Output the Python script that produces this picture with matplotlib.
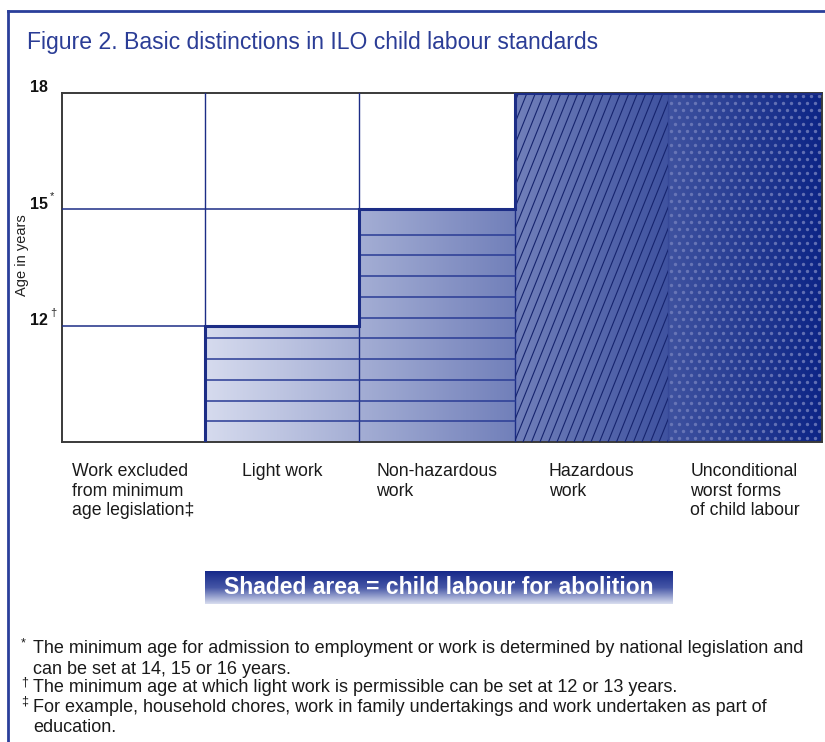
import numpy as np
import matplotlib
matplotlib.use("Agg")
import matplotlib.pyplot as plt
from matplotlib.colors import LinearSegmentedColormap
from matplotlib.patches import Polygon, Rectangle
from matplotlib.lines import Line2D
from matplotlib import transforms

plt.rcParams["font.family"] = ["Liberation Sans", "DejaVu Sans"]

# --- data ---------------------------------------------------------------
categories = [
    "Work excluded\nfrom minimum\nage legislation\u2021",
    "Light work",
    "Non-hazardous\nwork",
    "Hazardous\nwork",
    "Unconditional\nworst forms\nof child labour",
]
base_age = 9
max_age = 18
# age below which work counts as child labour for abolition (base = none)
shaded_top = [9, 12, 15, 18, 18]
age_ticks = [12, 15, 18]
age_tick_marks = ["\u2020", "*", ""]
title = "Figure 2. Basic distinctions in ILO child labour standards"
banner = "Shaded area = child labour for abolition"
footnotes = [
    ("*", "The minimum age for admission to employment or work is determined by national legislation and\ncan be set at 14, 15 or 16 years."),
    ("\u2020", "The minimum age at which light work is permissible can be set at 12 or 13 years."),
    ("\u2021", "For example, household chores, work in family undertakings and work undertaken as part of\neducation."),
]

# --- layout ---------------------------------------------------------------
col_widths = [143, 154, 156, 153, 154]  # pixel widths of the columns
NAVY = "#1c2d86"
TITLE_BLUE = "#2b3d96"
W, H = 825, 742


def px(x, y):
    return x / W, 1 - y / H


edges = np.concatenate([[0], np.cumsum(col_widths)])

fig = plt.figure(figsize=(W / 100, H / 100), dpi=100)

# outer blue frame (cropped on the right and bottom)
fig.add_artist(Line2D([8 / W, 1.0], [1 - 11 / H] * 2, color="#2a3f9a", lw=2))
fig.add_artist(Line2D([8 / W] * 2, [0, 1 - 11 / H], color="#2a3f9a", lw=2))

fig.text(*px(27, 42), title, color=TITLE_BLUE, fontsize=16.6, va="center", ha="left")

ax = fig.add_axes([62 / W, 1 - 442 / H, edges[-1] / W, 349 / H])
n = len(categories)
ax.set_xlim(0, edges[-1])
ax.set_ylim(base_age, max_age)
ax.set_xticks([])
ax.set_yticks([])
for side in ["left", "bottom", "top", "right"]:
    ax.spines[side].set_color("#3a3a3a")
    ax.spines[side].set_linewidth(1.4)

# shaded step region
first = next(i for i, t in enumerate(shaded_top) if t > base_age)
verts = [(edges[first], base_age)]
for i in range(first, n):
    verts.append((edges[i], shaded_top[i]))
    verts.append((edges[i + 1], shaded_top[i]))
verts.append((edges[n], base_age))
region = Polygon(verts, closed=True, facecolor="none", edgecolor="none")
ax.add_patch(region)

grad_cmap = LinearSegmentedColormap.from_list("g", ["#d6dbee", "#0d2586"])
grad = np.linspace(0, 1, 256).reshape(1, -1)
im = ax.imshow(grad, extent=[edges[first], edges[n], base_age, max_age], aspect="auto",
               cmap=grad_cmap, origin="lower", zorder=1)
im.set_clip_path(region)

# white-area grid lines
for age in age_ticks[:-1]:
    c_end = next(i for i, t in enumerate(shaded_top) if t >= age)
    ax.plot([0, edges[c_end]], [age, age], color=NAVY, lw=1.1, zorder=3)
for i in range(1, n):
    ax.plot([edges[i]] * 2, [base_age, max_age], color=NAVY, lw=1.0, zorder=3,
            alpha=0.25 if i == n - 1 else 1)

# horizontal stripes: light work and non-hazardous work
stripe_cols = [1, 2]
for y in base_age + 0.535 * np.arange(1, 11):
    cols = [c for c in stripe_cols if shaded_top[c] > y]
    if cols:
        ax.plot([edges[min(cols)], edges[max(cols) + 1]], [y, y], color="#2a3c95",
                lw=1.1, zorder=3)

# diagonal lines: hazardous work
hz = 3
clip = Rectangle((edges[hz], base_age), col_widths[hz], max_age - base_age,
                 transform=ax.transData, facecolor="none", edgecolor="none")
ax.add_patch(clip)
for o in np.arange(-145, col_widths[hz] + 5, 8.5):
    ln, = ax.plot([edges[hz] + o, edges[hz] + o + 140], [base_age, max_age], color="#16246e",
                  lw=0.8, zorder=3)
    ln.set_clip_path(clip)

# dotted texture: unconditional worst forms
wf = 4
gx, gy = np.meshgrid(np.arange(3, col_widths[wf], 8.0), np.arange(base_age + 0.1, max_age, 0.18))
gx = gx + np.where((np.arange(gy.shape[0]) % 2)[:, None] == 1, 4.0, 0)
ax.scatter(edges[wf] + gx.ravel(), gy.ravel(), s=6, color="#6f7cbb", lw=0, zorder=3, alpha=0.85)

# outline of shaded region
ox, oy = zip(*verts[:-1])
ax.plot(ox, oy, color=NAVY, lw=2.2, zorder=4, solid_joinstyle="miter")

# y labels
for age, mark in zip(age_ticks, age_tick_marks):
    tr = transforms.offset_copy(ax.get_yaxis_transform(), fig=fig, x=-14, y=5, units="dots")
    ax.text(0, age, str(age), transform=tr, ha="right", va="center",
            fontsize=11.5, fontweight="bold", color="#111111")
    if mark:
        tr2 = transforms.offset_copy(ax.get_yaxis_transform(), fig=fig, x=-12, y=13, units="dots")
        ax.text(0, age, mark, transform=tr2, ha="left", va="center", fontsize=8, color="#222222")
fig.text(*px(22, 255), "Age in years", rotation=90, ha="center", va="center", fontsize=10.5,
         color="#222222")

# category labels
tr = transforms.blended_transform_factory(ax.transData, fig.transFigure)
for i, label in enumerate(categories):
    ax.text((edges[i] + edges[i + 1]) / 2, px(0, 463)[1], label, transform=tr, ha="center",
            va="top", multialignment="left", fontsize=12.7, linespacing=1.2, color="#1a1a1a")

# banner
bax = fig.add_axes([205 / W, 1 - 604 / H, 468 / W, 33 / H])
bcmap = LinearSegmentedColormap.from_list("b", ["#16298a", "#4556a6", "#d8ddef"])
bax.imshow(np.linspace(0, 1, 100).reshape(-1, 1), aspect="auto", cmap=bcmap,
           extent=[0, 1, 0, 1])
bax.set_axis_off()
bax.text(0.5, 0.5, banner, ha="center", va="center", color="white", fontsize=16.5,
         fontweight="bold", transform=bax.transAxes)

# footnotes
y0 = 640
for mark, text in footnotes:
    fig.text(*px(21, y0 - 3), mark, fontsize=9, ha="left", va="top", color="#1a1a1a")
    fig.text(*px(33, y0), text, fontsize=13, ha="left", va="top", linespacing=1.28,
             color="#1a1a1a")
    y0 += 19.6 * (text.count("\n") + 1)

fig.savefig("out.png", dpi=100)
